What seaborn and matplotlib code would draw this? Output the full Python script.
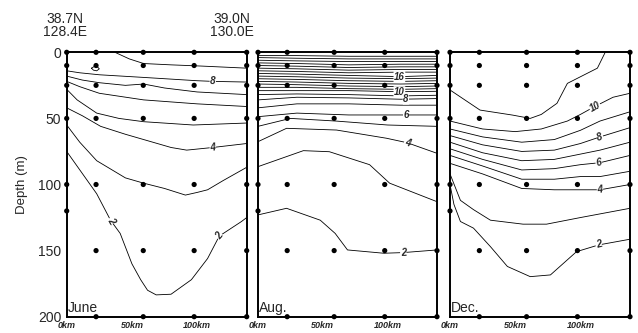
import numpy as np
import pandas as pd
import matplotlib
matplotlib.use('Agg')
import matplotlib.pyplot as plt
import seaborn as sns

sns.set_style('white')
plt.rcParams['font.family'] = ['Liberation Sans', 'DejaVu Sans']

# station positions (km from coast) and sampled depths (m)
station_km = [0, 22.5, 58.7, 97.7, 138]
station_depths = [
    [0, 10, 25, 50, 100, 120],
    [0, 10, 25, 50, 100, 150, 200],
    [0, 10, 25, 50, 100, 150, 200],
    [0, 10, 25, 50, 100, 150, 200],
    [0, 10, 25, 50, 100, 150, 200],
]

# isotherms: level, distance (km), depth (m)
june_levels = [9, 9, 8, 7, 6, 5, 4, 3, 2]
june_km = [
    [37, 48, 59, 80, 103, 138],
    [19, 20.5, 23, 25, 23.5, 21, 19],
    [0, 10, 25, 59, 100, 112, 138],
    [0, 12, 25, 45, 59, 75, 100, 138],
    [0, 10, 25, 59, 100, 138],
    [0, 8, 23, 40, 59, 97, 138],
    [0, 12, 26, 45, 59, 80, 92, 112, 138],
    [0, 10, 23, 45, 59, 75, 91, 100, 108, 120, 138],
    [0, 23, 33.6, 41, 50, 56.7, 62, 68.6, 80, 95.6, 108, 117, 134, 138],
]
june_depth = [
    [0, 5, 8.5, 9.5, 10.4, 12],
    [12, 13.5, 14, 12.5, 11, 10.8, 12],
    [14, 15.5, 17, 19, 21.5, 22, 22.5],
    [18, 21, 23, 25, 24, 27, 30, 32],
    [22, 26, 31, 36, 39, 41],
    [28, 36, 46, 50, 52.5, 55, 53.5],
    [42, 48, 56, 62, 66, 72, 74, 72, 69],
    [55, 68, 82, 95, 99, 103, 108, 106, 104, 97, 87],
    [75, 107, 127, 137, 160, 172, 180, 183.5, 183, 172, 156, 139, 128, 125],
]
june_labels = [(2, 112), (6, 112), (8, 34), (8, 117)]

aug_levels = [23, 22, 21, 20, 19, 18, 17, 16, 15, 14, 13, 12, 11, 10, 9, 8, 7, 6, 5, 4, 3, 2]
aug_km = [[0, 30, 70, 110, 138]] * 18 + [
    [0, 25, 60, 100, 138],
    [0, 22, 60.5, 99, 115, 138],
    [0, 35, 55, 86, 101.5, 138],
    [0, 22, 48, 59.5, 69, 97, 112, 138],
]
aug_depth = [
    [2.5, 2.5, 3, 3, 3],
    [4, 4.5, 5, 5, 5],
    [6, 6.5, 7, 7, 7],
    [8, 8.5, 9.5, 9, 9],
    [10, 10.5, 11.5, 11, 11],
    [12, 12.5, 13.5, 13, 13],
    [14, 14.5, 15.5, 15, 15],
    [16, 16.5, 17.5, 18.4, 17.5],
    [18, 18.5, 19.5, 20, 19.5],
    [20, 20.5, 21.5, 22, 21.5],
    [22, 22.5, 23.5, 24, 23.5],
    [24, 24.5, 25.5, 26, 25.5],
    [26.5, 26.5, 27.5, 28, 27.5],
    [29, 29, 29, 29.8, 29.5],
    [32, 31.5, 32, 33, 32.5],
    [36, 34, 34.5, 35.5, 35],
    [42, 39, 39, 40, 40],
    [48.7, 46, 47.4, 47.4, 47.4],
    [56, 50, 52, 55, 56],
    [67.6, 57.5, 58.8, 65, 68.4, 76.4],
    [86.5, 74.4, 75.2, 85, 99, 113],
    [123, 118, 127, 137, 149.5, 152, 151.5, 149.5],
]
aug_labels = [(7, 109), (13, 109), (15, 114), (17, 114), (19, 115), (21, 112)]

dec_levels = [11, 10, 9, 8, 7, 6, 5, 4, 3, 2]
dec_km = [
    [0, 23, 48, 61.5, 70, 82, 90, 113, 119],
    [0, 25, 50, 70, 90, 100, 111, 125, 138],
    [0, 25, 55, 80, 100, 115, 138],
    [0, 25, 55, 80, 100, 115, 138],
    [0, 25, 55, 80, 100, 115, 138],
    [0, 25, 55, 80, 100, 115, 138],
    [0, 25, 55, 80, 100, 115, 138],
    [0, 25, 55, 80, 100, 115, 138],
    [0, 8, 18, 31, 56, 74, 100, 138],
    [0, 3, 8, 18, 31, 44, 61.5, 77, 97, 114, 138],
]
dec_depth = [
    [28.5, 43.7, 47.5, 50, 47, 38.6, 23.5, 12, 0],
    [52, 58, 60, 58, 52, 47, 41, 34, 31],
    [58, 64, 68, 66, 59, 52, 45],
    [63, 70, 75, 74, 69, 64, 57],
    [68, 76, 82, 81, 77, 74, 68],
    [73, 81, 89, 88, 85, 83.5, 78],
    [78, 86, 96, 96, 94, 94, 90],
    [84, 92, 103, 104, 104, 104, 100],
    [92, 112, 119, 127, 130, 130, 125, 118],
    [100, 115, 128, 133, 147, 162, 169.7, 168.4, 150.8, 145.7, 141.4],
]
dec_labels = [(1, 111), (3, 115), (5, 114), (7, 115), (9, 114)]

panels = [
    ('June', june_levels, june_km, june_depth, june_labels),
    ('Aug.', aug_levels, aug_km, aug_depth, aug_labels),
    ('Dec.', dec_levels, dec_km, dec_depth, dec_labels),
]

dots = pd.DataFrame([(k, d) for k, ds in zip(station_km, station_depths) for d in ds],
                    columns=['km', 'depth'])

fig = plt.figure(figsize=(6.38, 3.33), dpi=100)
lefts = [66.7, 258, 450]
widths = [180, 179, 180]

for i, (name, levels, kms, depths, labels) in enumerate(panels):
    ax = fig.add_axes([lefts[i] / 638, 1 - 316.7 / 333, widths[i] / 638, 264.4 / 333])
    ax.set_xlim(0, 138)
    ax.set_ylim(200, 0)

    for k, d in zip(kms, depths):
        ax.plot(k, d, color='black', lw=0.6, zorder=2)

    sns.scatterplot(data=dots, x='km', y='depth', ax=ax, color='black', s=14,
                    edgecolor='none', clip_on=False, zorder=5, legend=False)

    for idx, km in labels:
        k = np.asarray(kms[idx], float)
        d = np.asarray(depths[idx], float)
        y = np.interp(km, k, d)
        p1 = ax.transData.transform((km - 4, np.interp(km - 4, k, d)))
        p2 = ax.transData.transform((km + 4, np.interp(km + 4, k, d)))
        ang = np.degrees(np.arctan2(p2[1] - p1[1], p2[0] - p1[0]))
        ax.text(km, y, str(levels[idx]), fontsize=7, fontweight='bold', style='italic',
                ha='center', va='center', rotation=ang, zorder=4,
                bbox=dict(boxstyle='square,pad=0.05', fc='white', ec='none'))

    ax.text(0.006, 0.008, name, transform=ax.transAxes, ha='left', va='bottom',
            fontsize=10, zorder=6)

    for s in ax.spines.values():
        s.set_linewidth(1.4)
        s.set_color('black')
    ax.set_xticks([0, 50, 100])
    ax.set_xticks(np.arange(0, 139, 10), minor=True)
    ax.set_xticklabels(['0km', '50km', '100km'], fontsize=6.5, fontweight='bold', style='italic')
    ax.tick_params(axis='x', which='both', direction='inout', length=4, width=0.8, pad=1)
    ax.set_yticks([0, 50, 100, 150, 200])
    ax.tick_params(axis='y', direction='out', length=3, width=0.8, pad=1, labelsize=10)
    ax.set_xlabel('')
    ax.set_ylabel('')
    if i == 0:
        ax.set_ylabel('Depth (m)', fontsize=9.5, labelpad=7)
    else:
        ax.set_yticklabels([])

fig.text(65 / 638, 1 - 19 / 333, '38.7N', ha='center', va='center', fontsize=10)
fig.text(65 / 638, 1 - 32.5 / 333, '128.4E', ha='center', va='center', fontsize=10)
fig.text(232 / 638, 1 - 19 / 333, '39.0N', ha='center', va='center', fontsize=10)
fig.text(232 / 638, 1 - 32.5 / 333, '130.0E', ha='center', va='center', fontsize=10)

fig.savefig('out.png', dpi=100)
